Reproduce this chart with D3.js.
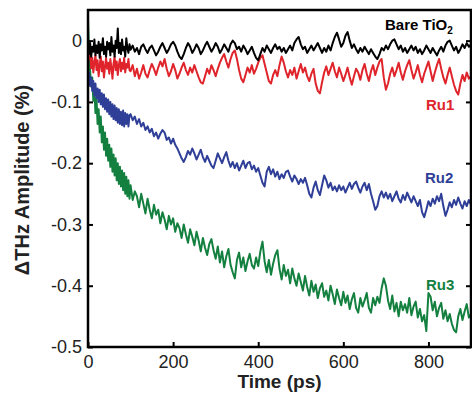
<!DOCTYPE html>
<html>
<head>
<meta charset="utf-8">
<script src="https://cdn.jsdelivr.net/npm/d3@7"></script>
<style>
  body { margin: 0; background: #fff; }
  svg { display: block; font-family: "Liberation Sans", Arial, sans-serif; }
</style>
</head>
<body>
<script>
// sampling grid of the THz scans (ps): finer steps in the first 100 ps
const timeEarly = d3.range(0, 100, 2.5);
const timeLate = d3.range(100, 901, 5);

// ΔTHz amplitude (%)
const bareEarly = [0.000, -0.022, -0.004, -0.026, -0.010, -0.018, 0.002, -0.024, -0.008, -0.020,
    -0.002, -0.028, -0.006, -0.016, 0.004, -0.022, -0.010, -0.026, -0.002, -0.014,
    -0.004, -0.024, 0.006, -0.018, -0.008, -0.026, 0.000, -0.012, 0.020, -0.020,
    -0.004, -0.022, 0.002, -0.016, -0.010, -0.026, 0.004, -0.012, -0.020, -0.006];
const bareLate = [-0.015, -0.008, -0.018, -0.012, -0.022, -0.010, -0.006, -0.014, -0.020, -0.012,
    -0.008, -0.016, -0.024, -0.018, -0.010, -0.004, -0.012, -0.020, -0.014, -0.006,
    -0.002, -0.008, -0.018, -0.026, -0.030, -0.022, -0.012, -0.004, -0.010, -0.020,
    -0.014, -0.006, -0.012, -0.022, -0.016, -0.008, -0.002, -0.010, -0.018, -0.012,
    -0.004, -0.010, -0.020, -0.014, -0.006, -0.012, -0.018, -0.006, 0.000, -0.004,
    -0.014, -0.010, -0.018, -0.008, -0.014, -0.022, -0.016, -0.010, -0.020, -0.028,
    -0.032, -0.022, -0.012, -0.018, -0.008, -0.014, -0.020, -0.012, -0.006, -0.014,
    -0.010, -0.018, -0.012, -0.020, -0.014, -0.008, -0.016, -0.004, 0.002, 0.006,
    -0.006, -0.014, -0.010, -0.020, -0.014, -0.008, -0.016, -0.010, -0.004, -0.012,
    -0.020, -0.012, -0.018, -0.008, -0.016, -0.004, 0.006, 0.013, 0.002, -0.010,
    -0.004, 0.008, 0.014, 0.000, -0.012, -0.006, -0.014, -0.020, -0.012, -0.018,
    -0.010, -0.016, -0.022, -0.014, -0.020, -0.026, -0.030, -0.022, -0.012, -0.016,
    -0.008, -0.014, -0.006, 0.000, 0.002, -0.006, -0.014, -0.008, -0.018, -0.012,
    -0.020, -0.014, -0.008, -0.016, -0.010, -0.020, -0.014, -0.022, -0.016, -0.008,
    -0.014, -0.020, -0.012, -0.018, -0.024, -0.016, -0.010, -0.018, -0.008, -0.002,
    0.000, -0.008, -0.016, -0.010, -0.020, -0.014, -0.006, -0.012, -0.004, -0.010,
    -0.006];

const ru1Early = [0.000, -0.030, -0.020, -0.045, -0.028, -0.052, -0.036, -0.024, -0.048, -0.032,
    -0.058, -0.040, -0.026, -0.050, -0.034, -0.060, -0.042, -0.028, -0.046, -0.036,
    -0.054, -0.030, -0.044, -0.062, -0.038, -0.026, -0.048, -0.034, -0.056, -0.040,
    -0.030, -0.050, -0.036, -0.046, -0.028, -0.052, -0.038, -0.044, -0.030, -0.048];
const ru1Late = [-0.050, -0.040, -0.058, -0.046, -0.062, -0.052, -0.040, -0.054, -0.060, -0.048,
    -0.038, -0.046, -0.056, -0.044, -0.034, -0.042, -0.030, -0.046, -0.058, -0.050,
    -0.038, -0.048, -0.062, -0.054, -0.044, -0.036, -0.048, -0.056, -0.044, -0.052,
    -0.040, -0.050, -0.060, -0.068, -0.070, -0.058, -0.046, -0.054, -0.040, -0.048,
    -0.058, -0.046, -0.036, -0.028, -0.022, -0.034, -0.044, -0.030, -0.020, -0.016,
    -0.030, -0.048, -0.062, -0.068, -0.056, -0.044, -0.052, -0.040, -0.054, -0.046,
    -0.036, -0.028, -0.024, -0.038, -0.052, -0.066, -0.070, -0.056, -0.048, -0.058,
    -0.040, -0.026, -0.036, -0.050, -0.060, -0.048, -0.056, -0.044, -0.062, -0.050,
    -0.038, -0.052, -0.044, -0.058, -0.066, -0.054, -0.046, -0.070, -0.082, -0.086,
    -0.068, -0.052, -0.042, -0.056, -0.046, -0.036, -0.050, -0.060, -0.044, -0.054,
    -0.066, -0.056, -0.044, -0.060, -0.072, -0.058, -0.046, -0.052, -0.064, -0.048,
    -0.038, -0.054, -0.066, -0.050, -0.040, -0.056, -0.044, -0.034, -0.030, -0.060,
    -0.080, -0.070, -0.054, -0.044, -0.058, -0.048, -0.036, -0.052, -0.064, -0.050,
    -0.040, -0.032, -0.048, -0.062, -0.052, -0.040, -0.056, -0.068, -0.054, -0.044,
    -0.034, -0.050, -0.066, -0.052, -0.040, -0.030, -0.046, -0.060, -0.070, -0.056,
    -0.044, -0.058, -0.072, -0.082, -0.088, -0.070, -0.056, -0.066, -0.052, -0.062,
    -0.058];

const ru2Early = [-0.060, -0.052, -0.074, -0.060, -0.082, -0.066, -0.090, -0.070, -0.094, -0.078,
    -0.100, -0.080, -0.104, -0.086, -0.108, -0.088, -0.112, -0.094, -0.116, -0.096,
    -0.120, -0.100, -0.124, -0.104, -0.128, -0.106, -0.130, -0.110, -0.134, -0.112,
    -0.136, -0.116, -0.138, -0.114, -0.140, -0.118, -0.136, -0.120, -0.140, -0.122];
const ru2Late = [-0.120, -0.130, -0.124, -0.136, -0.128, -0.140, -0.134, -0.146, -0.140, -0.150,
    -0.144, -0.156, -0.150, -0.160, -0.152, -0.146, -0.150, -0.162, -0.158, -0.168,
    -0.160, -0.170, -0.176, -0.184, -0.192, -0.198, -0.190, -0.180, -0.186, -0.176,
    -0.184, -0.194, -0.186, -0.178, -0.190, -0.198, -0.188, -0.196, -0.204, -0.208,
    -0.196, -0.184, -0.192, -0.200, -0.190, -0.182, -0.196, -0.206, -0.198, -0.208,
    -0.200, -0.212, -0.204, -0.196, -0.208, -0.200, -0.198, -0.210, -0.204, -0.214,
    -0.208, -0.220, -0.232, -0.238, -0.214, -0.206, -0.218, -0.210, -0.222, -0.214,
    -0.226, -0.218, -0.224, -0.214, -0.212, -0.222, -0.230, -0.220, -0.226, -0.234,
    -0.226, -0.232, -0.224, -0.236, -0.250, -0.256, -0.240, -0.230, -0.244, -0.252,
    -0.236, -0.220, -0.228, -0.240, -0.232, -0.244, -0.238, -0.246, -0.236, -0.244,
    -0.238, -0.248, -0.240, -0.232, -0.242, -0.234, -0.230, -0.240, -0.248, -0.238,
    -0.232, -0.244, -0.234, -0.250, -0.262, -0.276, -0.270, -0.254, -0.246, -0.256,
    -0.248, -0.258, -0.250, -0.262, -0.254, -0.246, -0.258, -0.264, -0.252, -0.260,
    -0.248, -0.256, -0.264, -0.254, -0.262, -0.270, -0.260, -0.280, -0.288, -0.276,
    -0.262, -0.270, -0.258, -0.266, -0.254, -0.262, -0.250, -0.270, -0.286, -0.276,
    -0.264, -0.272, -0.260, -0.268, -0.256, -0.266, -0.274, -0.262, -0.270, -0.260,
    -0.268];

const ru3Early = [0.035, -0.020, -0.050, -0.075, -0.060, -0.098, -0.080, -0.118, -0.094, -0.136,
    -0.112, -0.150, -0.124, -0.166, -0.140, -0.178, -0.150, -0.188, -0.160, -0.196,
    -0.170, -0.206, -0.176, -0.214, -0.186, -0.220, -0.192, -0.228, -0.200, -0.234,
    -0.206, -0.238, -0.212, -0.244, -0.216, -0.250, -0.222, -0.254, -0.228, -0.258];
const ru3Late = [-0.236, -0.260, -0.246, -0.254, -0.272, -0.250, -0.266, -0.282, -0.258, -0.276,
    -0.290, -0.268, -0.284, -0.276, -0.298, -0.280, -0.292, -0.308, -0.286, -0.300,
    -0.290, -0.312, -0.298, -0.306, -0.322, -0.300, -0.316, -0.330, -0.308, -0.320,
    -0.334, -0.312, -0.326, -0.344, -0.322, -0.338, -0.350, -0.332, -0.324, -0.342,
    -0.356, -0.336, -0.362, -0.344, -0.370, -0.352, -0.340, -0.366, -0.378, -0.388,
    -0.358, -0.346, -0.370, -0.354, -0.376, -0.360, -0.348, -0.366, -0.372, -0.354,
    -0.368, -0.344, -0.328, -0.360, -0.378, -0.358, -0.382, -0.364, -0.350, -0.342,
    -0.372, -0.390, -0.366, -0.384, -0.374, -0.396, -0.372, -0.388, -0.400, -0.380,
    -0.394, -0.408, -0.384, -0.402, -0.416, -0.392, -0.410, -0.398, -0.420, -0.404,
    -0.396, -0.418, -0.408, -0.424, -0.400, -0.414, -0.430, -0.406, -0.420, -0.432,
    -0.410, -0.428, -0.416, -0.438, -0.422, -0.412, -0.436, -0.444, -0.420, -0.434,
    -0.424, -0.412, -0.436, -0.444, -0.420, -0.432, -0.418, -0.428, -0.404, -0.388,
    -0.400, -0.424, -0.438, -0.416, -0.442, -0.428, -0.450, -0.426, -0.440, -0.430,
    -0.444, -0.420, -0.448, -0.434, -0.426, -0.452, -0.438, -0.458, -0.448, -0.474,
    -0.412, -0.418, -0.440, -0.426, -0.450, -0.436, -0.428, -0.454, -0.440, -0.458,
    -0.446, -0.462, -0.472, -0.476, -0.450, -0.438, -0.456, -0.442, -0.430, -0.452,
    -0.446];

const seriesNames = ["Bare TiO2", "Ru1", "Ru2", "Ru3"];
const seriesColors = ["#000000", "#e0242b", "#2f3f98", "#13803f"];
const xTicks = [0, 200, 400, 600, 800];
const yTicks = [0, -0.1, -0.2, -0.3, -0.4, -0.5];

const width = 472;
const height = 393;
const margin = {top: 10, right: 1, bottom: 46, left: 88};
const innerW = width - margin.left - margin.right;
const innerH = height - margin.top - margin.bottom;

const times = timeEarly.concat(timeLate);
const series = [
    bareEarly.concat(bareLate),
    ru1Early.concat(ru1Late),
    ru2Early.concat(ru2Late),
    ru3Early.concat(ru3Late)
].map((vals, i) => ({
    name: seriesNames[i],
    color: seriesColors[i],
    points: vals.map((v, j) => [times[j], v])
}));

const svg = d3.select("body")
    .append("svg")
    .attr("width", width)
    .attr("height", height);

const g = svg.append("g")
    .attr("transform", "translate(" + margin.left + "," + margin.top + ")");

const x = d3.scaleLinear().domain([0, 900]).range([0, innerW]);
const y = d3.scaleLinear().domain([-0.5, 0.05]).range([innerH, 0]);

g.append("clipPath").attr("id", "plot-clip")
    .append("rect")
    .attr("width", innerW)
    .attr("height", innerH);

// traces, Ru3 underneath so the flat ones sit on top like in the figure
const line = d3.line()
    .x(d => x(d[0]))
    .y(d => y(d[1]));

g.append("g")
    .attr("clip-path", "url(#plot-clip)")
    .selectAll("path")
    .data(series.slice().reverse())
    .enter().append("path")
    .attr("fill", "none")
    .attr("stroke", d => d.color)
    .attr("stroke-width", 2)
    .attr("stroke-linejoin", "round")
    .attr("d", d => line(d.points));

// axes with inward ticks
const fmtY = d => d === 0 ? "0" : d.toFixed(1);

const yAxis = g.append("g")
    .call(d3.axisLeft(y).tickValues(yTicks).tickSize(-5).tickPadding(6).tickFormat(fmtY));
const yAxisR = g.append("g")
    .attr("transform", "translate(" + innerW + ",0)")
    .call(d3.axisRight(y).tickValues(yTicks).tickSize(-5).tickFormat(""));
const xAxis = g.append("g")
    .attr("transform", "translate(0," + innerH + ")")
    .call(d3.axisBottom(x).tickValues(xTicks).tickSize(-5).tickPadding(8));

[yAxis, yAxisR, xAxis].forEach(a => {
    a.select(".domain").remove();
    a.selectAll(".tick line").attr("stroke", "#000").attr("stroke-width", 2);
    a.selectAll("text")
        .attr("fill", "#222")
        .style("font-size", "18px")
        .style("font-family", "'Liberation Sans', Arial, sans-serif");
});

// frame
g.append("rect")
    .attr("width", innerW)
    .attr("height", innerH)
    .attr("fill", "none")
    .attr("stroke", "#000")
    .attr("stroke-width", 2.5);

// axis titles
g.append("text")
    .attr("x", x(450))
    .attr("y", innerH + 41)
    .attr("text-anchor", "middle")
    .style("font-size", "19px")
    .style("font-weight", "bold")
    .attr("fill", "#222")
    .text("Time (ps)");

g.append("text")
    .attr("transform", "translate(" + (29 - margin.left) + "," + (180 - margin.top) + ") rotate(-90)")
    .attr("text-anchor", "middle")
    .style("font-size", "20px")
    .style("font-weight", "bold")
    .attr("fill", "#222")
    .text("\u0394THz Amplitude (%)");

// series labels
const labelPos = [[385, 30], [426, 110], [425, 183], [426, 290]];
const labels = g.append("g")
    .style("font-size", "15px")
    .style("font-weight", "bold");

series.forEach((s, i) => {
    const t = labels.append("text")
        .attr("x", labelPos[i][0] - margin.left)
        .attr("y", labelPos[i][1] - margin.top)
        .attr("fill", s.color);
    if (s.name === "Bare TiO2") {
        t.append("tspan").text("Bare TiO");
        t.append("tspan").attr("dy", 4).style("font-size", "10px").text("2");
    } else {
        t.text(s.name);
    }
});
</script>
</body>
</html>
